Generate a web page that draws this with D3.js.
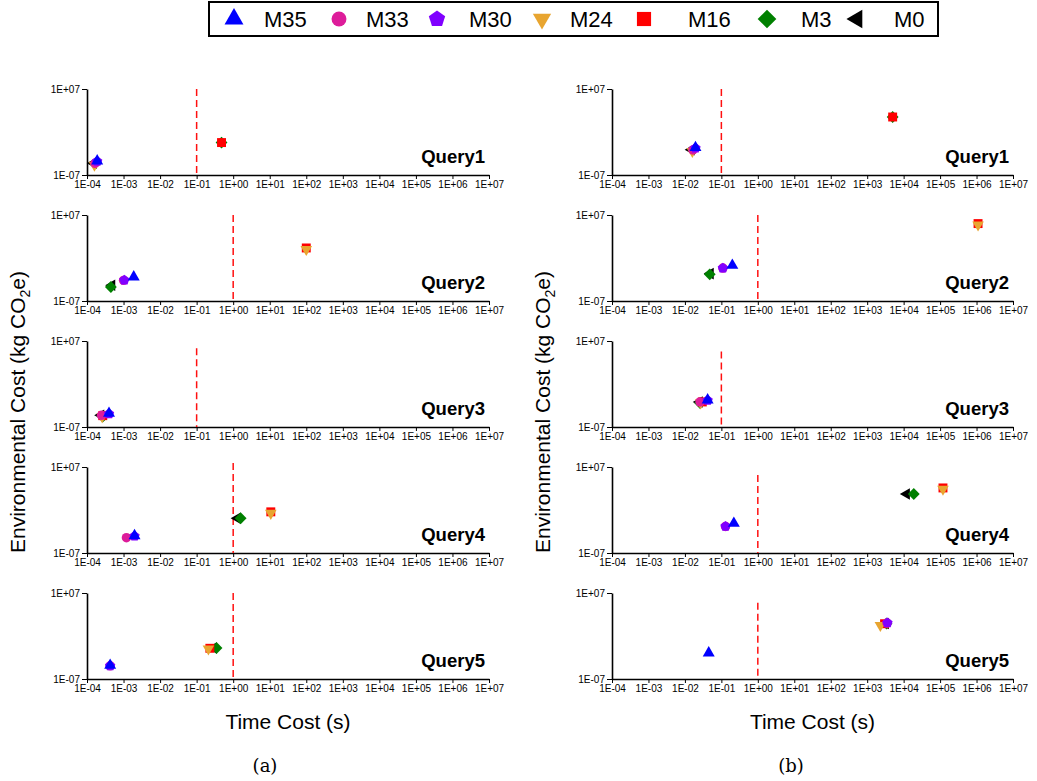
<!DOCTYPE html>
<html>
<head>
<meta charset="utf-8">
<script src="https://cdn.jsdelivr.net/npm/d3@7"></script>
<style>
  body { margin: 0; background: white; }
  svg { font-family: "Liberation Sans", Arial, sans-serif; }
</style>
</head>
<body>
<div id="viz-container"></div>
<script>
let svgWidth = 1037;
let svgHeight = 781;

// data
let models = ["M35", "M33", "M30", "M24", "M16", "M3", "M0"];
let queries = ["Query1", "Query2", "Query3", "Query4", "Query5"];
let xTicks = [1e-4, 1e-3, 1e-2, 1e-1, 1e0, 1e1, 1e2, 1e3, 1e4, 1e5, 1e6, 1e7];
let yTicks = [1e-7, 1e7];

// (a) time cost per query, one value per model (M35..M0)
let timeA = [
  [1.9e-4, 1.66e-4, 1.9e-4, 1.6e-4, 0.48, 0.48, 1.5e-4],
  [1.9e-3, 1.0e-3, 1.05e-3, 100, 100, 4.5e-4, 4.8e-4],
  [4e-4, 2.5e-4, 4e-4, 2.6e-4, 2.7e-4, 2.7e-4, 2.4e-4],
  [2e-3, 1.2e-3, 2e-3, 10.7, 10.7, 1.6, 1.3],
  [4.3e-4, 4.3e-4, 4.3e-4, 0.21, 0.23, 0.35, 0.29]
];
let co2A = [
  [1.9e-5, 8e-6, 1.6e-5, 4e-6, 0.019, 0.019, 8e-6],
  [8e-4, 2.3e-4, 2.5e-4, 25, 43, 1.9e-5, 3.6e-5],
  [1.7e-5, 8e-6, 1.4e-5, 5e-6, 7e-6, 5e-6, 8e-6],
  [6.6e-5, 3.1e-5, 5.5e-5, 0.3, 0.5, 0.045, 0.045],
  [1.7e-5, 1.4e-5, 1.4e-5, 0.008, 0.01, 0.011, 0.011]
];
// (b)
let timeB = [
  [0.0195, 0.0166, 0.0195, 0.016, 5000, 5000, 0.015],
  [0.2, 0.11, 0.11, 1.1e6, 1.1e6, 0.048, 0.05],
  [0.042, 0.026, 0.042, 0.027, 0.03, 0.026, 0.025],
  [0.22, 0.13, 0.13, 1.2e5, 1.2e5, 1.9e4, 1.2e4],
  [0.045, 3500, 3600, 2300, 3000, 3400, 3200]
];
let co2B = [
  [2.9e-3, 1.2e-3, 2.4e-3, 7e-4, 277, 277, 1.3e-3],
  [0.065, 0.023, 0.023, 2.5e5, 4e5, 2.2e-3, 2.9e-3],
  [2.5e-3, 1.2e-3, 2.1e-3, 9e-4, 1.2e-3, 8e-4, 1.2e-3],
  [6.6e-3, 2.1e-3, 2.1e-3, 2500, 3900, 400, 400],
  [1.7e-3, 130, 140, 55, 100, 110, 110]
];
// red dashed threshold lines: time value and top of the line
let thresholdA = [0.1, 1, 0.1, 1, 1];
let lineTopA = [1e7, 1e7, 6.5e5, 4.5e7, 1e7];
let thresholdB = [0.1, 1, 0.1, 1, 1];
let lineTopB = [1e7, 1e7, 2e5, 5e5, 2.5e5];

// styles
let modelColors = ["#0000ff", "#dd1c9a", "#8000ff", "#e8a530", "#ff0000", "#008000", "#000000"];
// which model is painted first .. last
let drawOrder = [6, 5, 4, 3, 1, 2, 0];

let pentagon = {
  draw: function(context, size) {
    let r = Math.sqrt(size / 2.378);
    for (let k = 0; k < 5; k++) {
      let a = -Math.PI / 2 + k * 2 * Math.PI / 5;
      if (k == 0) context.moveTo(r * Math.cos(a), r * Math.sin(a));
      else context.lineTo(r * Math.cos(a), r * Math.sin(a));
    }
    context.closePath();
  }
};
let symbolTypes = [d3.symbolTriangle, d3.symbolCircle, pentagon, d3.symbolTriangle, d3.symbolSquare, d3.symbolSquare, d3.symbolTriangle];
let symbolRotate = [0, 0, 0, 180, 0, 45, -90];
let symbolSize = [62, 70, 70, 58, 80, 70, 58];

function fmt(d) {
  let e = Math.round(Math.log10(d));
  let s = Math.abs(e) < 10 ? "0" + Math.abs(e) : "" + Math.abs(e);
  return "1E" + (e < 0 ? "-" : "+") + s;
}

let viz = d3.select("#viz-container")
  .append("svg")
    .attr("width", svgWidth)
    .attr("height", svgHeight);

// legend
let legendSymX = [234, 339, 437, 542, 644, 767, 857];
let legendTxtX = [264, 366, 469, 570, 688, 801, 894];
viz.append("rect")
  .attr("x", 209).attr("y", 2)
  .attr("width", 729).attr("height", 34)
  .attr("fill", "white")
  .attr("stroke", "black")
  .attr("stroke-width", 2);

let legendItems = viz.selectAll(".legendItem").data(models).enter()
  .append("g")
  .attr("class", "legendItem");

legendItems.append("path")
  .attr("d", function(d, i) { return d3.symbol().type(symbolTypes[i]).size(symbolSize[i] * 2.5)(); })
  .attr("transform", function(d, i) { return "translate(" + legendSymX[i] + ",19) rotate(" + symbolRotate[i] + ")"; })
  .attr("fill", function(d, i) { return modelColors[i]; });

legendItems.append("text")
  .text(function(d) { return d; })
  .attr("x", function(d, i) { return legendTxtX[i]; })
  .attr("y", 27)
  .attr("font-size", 22)
  .attr("fill", "black");

// panels
let panelH = 86;
let panelGap = 126;
let columns = [
  { x0: 87, x1: 489, time: timeA, co2: co2A, thr: thresholdA, top: lineTopA },
  { x0: 612, x1: 1013, time: timeB, co2: co2B, thr: thresholdB, top: lineTopB }
];

columns.forEach(function(col) {
  let x = d3.scaleLog().domain([1e-4, 1e7]).range([col.x0, col.x1]);

  queries.forEach(function(q, qi) {
    let top = 89 + qi * panelGap;
    let y = d3.scaleLog().domain([1e-7, 1e7]).range([top + panelH, top]);
    let g = viz.append("g").attr("class", "panel");

    let xAxis = g.append("g")
      .attr("transform", "translate(0," + (top + panelH) + ")")
      .call(d3.axisBottom(x).tickValues(xTicks).tickFormat(fmt).tickSize(4).tickSizeOuter(0).tickPadding(2));
    let yAxis = g.append("g")
      .attr("transform", "translate(" + col.x0 + ",0)")
      .call(d3.axisLeft(y).tickValues(yTicks).tickFormat(fmt).tickSize(5).tickSizeOuter(0).tickPadding(2));

    [xAxis, yAxis].forEach(function(a) {
      a.select(".domain").attr("stroke-width", 1.6);
      a.selectAll(".tick line").attr("stroke-width", 1);
      a.selectAll("text").attr("font-size", 10).attr("font-family", "'Liberation Sans', Arial, sans-serif").attr("fill", "black");
    });

    // threshold
    g.append("line")
      .attr("x1", x(col.thr[qi])).attr("x2", x(col.thr[qi]))
      .attr("y1", y(col.top[qi])).attr("y2", top + panelH)
      .attr("stroke", "#ff1010")
      .attr("stroke-width", 1.5)
      .attr("stroke-dasharray", "7,4");

    let pts = drawOrder.map(function(i) {
      return { i: i, t: col.time[qi][i], c: col.co2[qi][i] };
    });

    g.selectAll(".pt").data(pts).enter()
      .append("path")
      .attr("class", "pt")
      .attr("d", function(d) { return d3.symbol().type(symbolTypes[d.i]).size(symbolSize[d.i])(); })
      .attr("transform", function(d) { return "translate(" + x(d.t) + "," + y(d.c) + ") rotate(" + symbolRotate[d.i] + ")"; })
      .attr("fill", function(d) { return modelColors[d.i]; });

    g.append("text")
      .text(q)
      .attr("x", col.x1 - 4)
      .attr("y", top + 74)
      .attr("text-anchor", "end")
      .attr("font-size", 18.5)
      .attr("font-weight", "bold")
      .attr("fill", "black");
  });

  let cx = (col.x0 + col.x1) / 2;
  viz.append("text")
    .text("Time Cost (s)")
    .attr("x", cx)
    .attr("y", 729)
    .attr("text-anchor", "middle")
    .attr("font-size", 21)
    .attr("fill", "black");

  let yl = viz.append("text")
    .attr("transform", "translate(" + (col.x0 - 62) + ",412) rotate(-90)")
    .attr("text-anchor", "middle")
    .attr("font-size", 21)
    .attr("fill", "black");
  yl.append("tspan").text("Environmental Cost (kg CO");
  yl.append("tspan").text("2").attr("font-size", 14).attr("dy", 5);
  yl.append("tspan").text("e)").attr("dy", -5);
});

viz.append("text").text("(a)")
  .attr("x", 265).attr("y", 772)
  .attr("text-anchor", "middle")
  .attr("font-family", "'DejaVu Serif', 'Liberation Serif', serif")
  .attr("font-size", 18);
viz.append("text").text("(b)")
  .attr("x", 791).attr("y", 772)
  .attr("text-anchor", "middle")
  .attr("font-family", "'DejaVu Serif', 'Liberation Serif', serif")
  .attr("font-size", 18);
</script>
</body>
</html>
